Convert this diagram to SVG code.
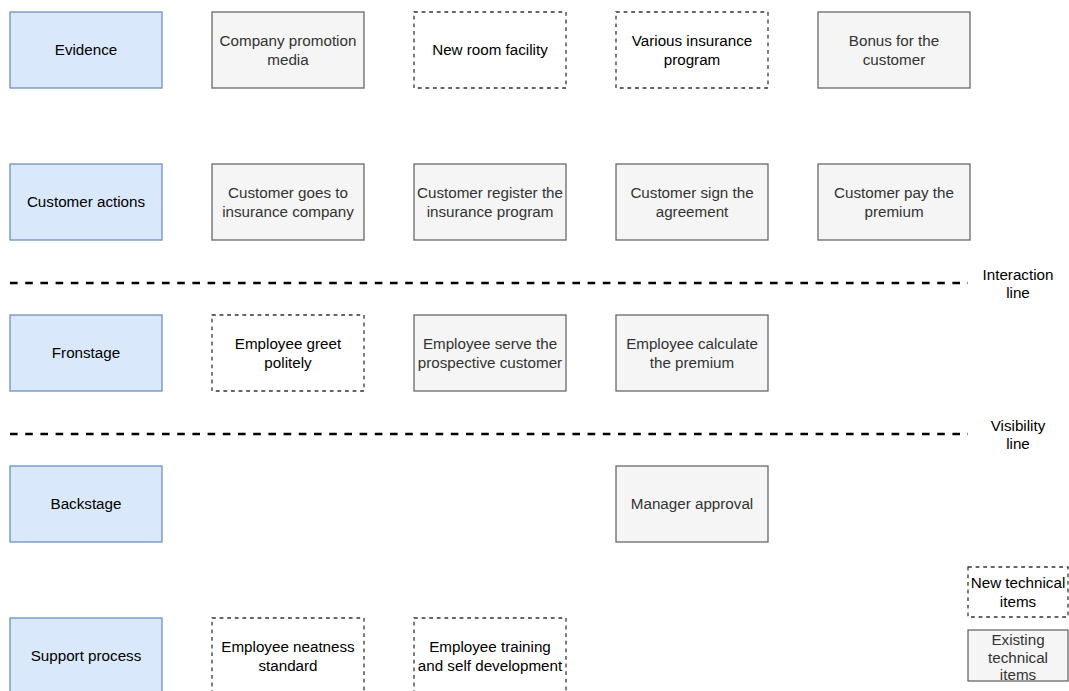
<svg xmlns="http://www.w3.org/2000/svg" width="1069" height="691" viewBox="0 0 1069 691">
<style>
text{font-family:"Liberation Sans",Arial,sans-serif;font-size:15.2px;text-anchor:middle}
.lane rect{fill:#dae8fc;stroke:#6c8ebf;stroke-width:1.27}
.lane text{fill:#000}
.ex rect{fill:#f5f5f5;stroke:#666;stroke-width:1.27}
.ex text{fill:#333}
.nw rect{fill:#fff;stroke:#333;stroke-width:1.27;stroke-dasharray:3.8 3.8}
.nw text{fill:#000}
.sep{stroke:#000;stroke-width:2.5;stroke-dasharray:7.6 7.6;fill:none}
.lbl{fill:#000}
</style>
<rect width="1069" height="691" fill="#fff"/>
<g id="connectors">
<line class="sep" x1="10" y1="283" x2="968" y2="283"/>
<line class="sep" x1="10" y1="434" x2="968" y2="434"/>
</g>
<g id="interaction-label"><text class="lbl" x="1018" y="280">Interaction</text><text class="lbl" x="1018" y="298">line</text></g>
<g id="visibility-label"><text class="lbl" x="1018" y="431">Visibility</text><text class="lbl" x="1018" y="449">line</text></g>

<g id="lane-evidence" class="lane"><rect x="10" y="12" width="152" height="76"/><text x="86" y="55.4">Evidence</text></g>
<g id="lane-customer" class="lane"><rect x="10" y="164" width="152" height="76"/><text x="86" y="207.4">Customer actions</text></g>
<g id="lane-front" class="lane"><rect x="10" y="315" width="152" height="76"/><text x="86" y="358.4">Fronstage</text></g>
<g id="lane-back" class="lane"><rect x="10" y="466" width="152" height="76"/><text x="86" y="509.4">Backstage</text></g>
<g id="lane-support" class="lane"><rect x="10" y="618" width="152" height="76"/><text x="86" y="661.4">Support process</text></g>

<g id="ev1" class="ex"><rect x="212" y="12" width="152" height="76"/><text x="288" y="46.3">Company promotion</text><text x="288" y="64.5">media</text></g>
<g id="ev2" class="nw"><rect x="414" y="12" width="152" height="76"/><text x="490" y="55.4">New room facility</text></g>
<g id="ev3" class="nw"><rect x="616" y="12" width="152" height="76"/><text x="692" y="46.3">Various insurance</text><text x="692" y="64.5">program</text></g>
<g id="ev4" class="ex"><rect x="818" y="12" width="152" height="76"/><text x="894" y="46.3">Bonus for the</text><text x="894" y="64.5">customer</text></g>

<g id="ca1" class="ex"><rect x="212" y="164" width="152" height="76"/><text x="288" y="198.3">Customer goes to</text><text x="288" y="216.5">insurance company</text></g>
<g id="ca2" class="ex"><rect x="414" y="164" width="152" height="76"/><text x="490" y="198.3">Customer register the</text><text x="490" y="216.5">insurance program</text></g>
<g id="ca3" class="ex"><rect x="616" y="164" width="152" height="76"/><text x="692" y="198.3">Customer sign the</text><text x="692" y="216.5">agreement</text></g>
<g id="ca4" class="ex"><rect x="818" y="164" width="152" height="76"/><text x="894" y="198.3">Customer pay the</text><text x="894" y="216.5">premium</text></g>

<g id="fs1" class="nw"><rect x="212" y="315" width="152" height="76"/><text x="288" y="349.3">Employee greet</text><text x="288" y="367.5">politely</text></g>
<g id="fs2" class="ex"><rect x="414" y="315" width="152" height="76"/><text x="490" y="349.3">Employee serve the</text><text x="490" y="367.5">prospective customer</text></g>
<g id="fs3" class="ex"><rect x="616" y="315" width="152" height="76"/><text x="692" y="349.3">Employee calculate</text><text x="692" y="367.5">the premium</text></g>

<g id="bs1" class="ex"><rect x="616" y="466" width="152" height="76"/><text x="692" y="509.4">Manager approval</text></g>

<g id="sp1" class="nw"><rect x="212" y="618" width="152" height="76"/><text x="288" y="652.3">Employee neatness</text><text x="288" y="670.5">standard</text></g>
<g id="sp2" class="nw"><rect x="414" y="618" width="152" height="76"/><text x="490" y="652.3">Employee training</text><text x="490" y="670.5">and self development</text></g>

<g id="legend-new" class="nw"><rect x="968" y="567" width="100" height="50"/><text x="1018" y="588.3">New technical</text><text x="1018" y="606.5">items</text></g>
<g id="legend-existing" class="ex"><rect x="968" y="630" width="100" height="51"/><text x="1018" y="645">Existing</text><text x="1018" y="662.5">technical</text><text x="1018" y="680">items</text></g>
</svg>
